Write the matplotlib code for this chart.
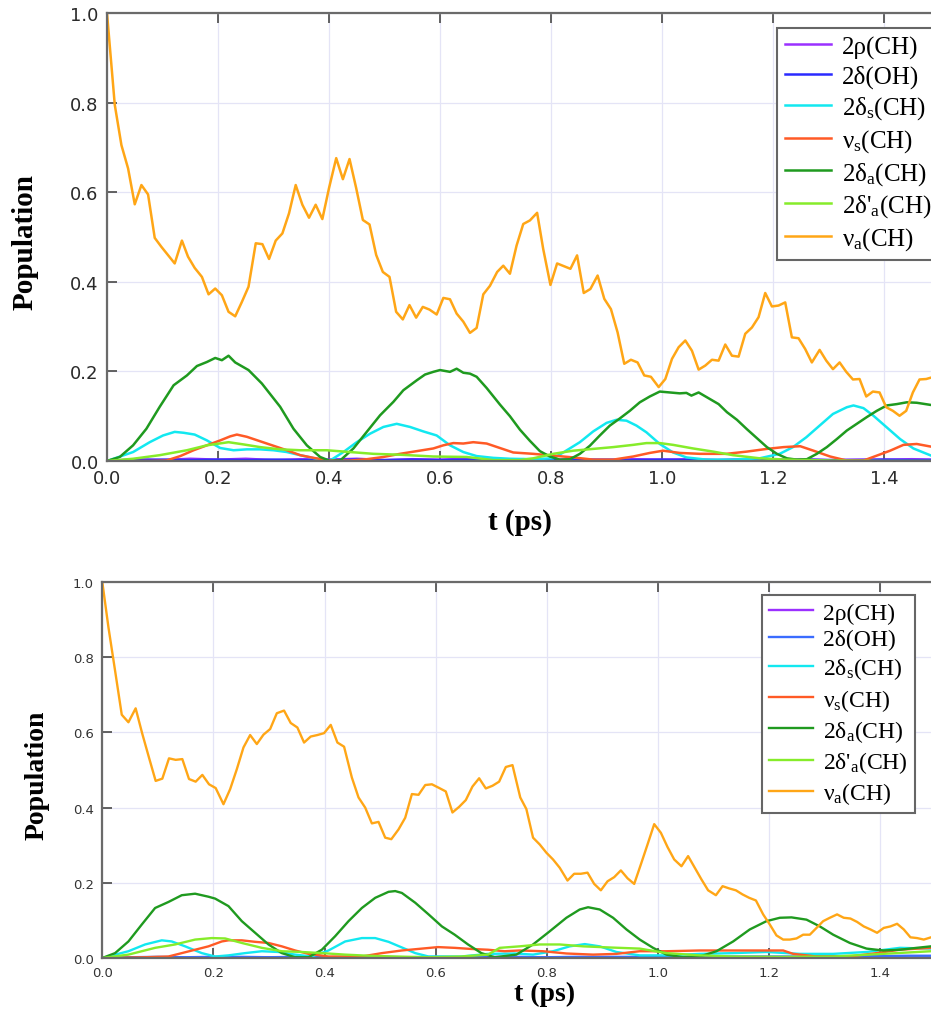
import matplotlib
matplotlib.use("Agg")
import matplotlib.pyplot as plt

plt.rcParams['mathtext.fontset'] = 'custom'
plt.rcParams['mathtext.rm'] = 'Liberation Serif'
plt.rcParams['mathtext.it'] = 'Liberation Serif:italic'

labels = ['2ρ(CH)', '2δ(OH)', r'2δ$_\mathrm{s}$(CH)', r'ν$_\mathrm{s}$(CH)',
          r'2δ$_\mathrm{a}$(CH)', r"2δ'$_\mathrm{a}$(CH)", r'ν$_\mathrm{a}$(CH)']
colors_top = ['#9b30ff', '#2a2aff', '#12e8f0', '#ff5a26', '#1f9a1f', '#86ec2a', '#ffa616']
colors_bot = ['#9b30ff', '#3a6cff', '#12e8f0', '#ff5a26', '#1f9a1f', '#86ec2a', '#ffa616']

x_ticks = [0.0, 0.2, 0.4, 0.6, 0.8, 1.0, 1.2, 1.4]
y_ticks = [0.0, 0.2, 0.4, 0.6, 0.8, 1.0]

# ---------------- top panel ----------------
top_t_low = [0.0, 0.05, 0.1, 0.15, 0.2, 0.25, 0.3, 0.35, 0.4, 0.45, 0.5, 0.55, 0.6, 0.65,
             0.7, 0.75, 0.8, 0.85, 0.9, 0.95, 1.0, 1.05, 1.1, 1.15, 1.2, 1.25, 1.3, 1.35,
             1.4, 1.45, 1.5]
top_rho = [0.0, 0.004, 0.002, 0.005, 0.003, 0.005, 0.002, 0.004, 0.003, 0.005, 0.002, 0.004,
           0.003, 0.005, 0.002, 0.004, 0.003, 0.004, 0.002, 0.004, 0.003, 0.004, 0.002, 0.003,
           0.003, 0.004, 0.002, 0.003, 0.003, 0.004, 0.003]
top_oh = [0.0, 0.002, 0.003, 0.002, 0.003, 0.002, 0.003, 0.002, 0.002, 0.003, 0.002, 0.003,
          0.002, 0.003, 0.002, 0.003, 0.002, 0.002, 0.003, 0.002, 0.003, 0.002, 0.002, 0.003,
          0.002, 0.003, 0.002, 0.002, 0.003, 0.002, 0.002]

top_t_ds = [0.0, 0.047, 0.077, 0.101, 0.122, 0.138, 0.158, 0.180, 0.204, 0.228, 0.252, 0.276,
            0.300, 0.324, 0.348, 0.378, 0.402, 0.426, 0.450, 0.474, 0.498, 0.522, 0.546, 0.570,
            0.594, 0.618, 0.642, 0.666, 0.696, 0.726, 0.768, 0.804, 0.822, 0.852, 0.876, 0.900,
            0.918, 0.936, 0.954, 0.972, 0.996, 1.020, 1.044, 1.080, 1.128, 1.176, 1.212, 1.236,
            1.260, 1.284, 1.308, 1.333, 1.345, 1.363, 1.381, 1.405, 1.429, 1.453, 1.485]
top_ds = [0.0, 0.020, 0.042, 0.057, 0.065, 0.063, 0.059, 0.046, 0.029, 0.024, 0.026, 0.026,
          0.024, 0.020, 0.013, 0.005, 0.001, 0.020, 0.042, 0.061, 0.076, 0.083, 0.076, 0.066,
          0.057, 0.035, 0.020, 0.011, 0.007, 0.005, 0.004, 0.006, 0.019, 0.042, 0.066, 0.085,
          0.092, 0.090, 0.079, 0.064, 0.038, 0.019, 0.008, 0.003, 0.003, 0.006, 0.016, 0.031,
          0.053, 0.079, 0.105, 0.120, 0.124, 0.118, 0.101, 0.075, 0.049, 0.028, 0.012]

top_t_vs = [0.0, 0.077, 0.107, 0.132, 0.156, 0.180, 0.204, 0.222, 0.234, 0.252, 0.276, 0.300,
            0.324, 0.348, 0.372, 0.402, 0.438, 0.468, 0.498, 0.528, 0.558, 0.588, 0.606, 0.624,
            0.642, 0.660, 0.684, 0.708, 0.732, 0.768, 0.804, 0.840, 0.876, 0.912, 0.948, 0.978,
            1.002, 1.032, 1.068, 1.116, 1.153, 1.189, 1.219, 1.249, 1.273, 1.303, 1.333, 1.363,
            1.387, 1.411, 1.435, 1.459, 1.485]
top_vs = [0.0, 0.0, 0.001, 0.011, 0.024, 0.035, 0.046, 0.055, 0.059, 0.054, 0.044, 0.034,
          0.024, 0.013, 0.007, 0.001, 0.001, 0.004, 0.009, 0.016, 0.022, 0.028, 0.035, 0.040,
          0.039, 0.042, 0.039, 0.029, 0.019, 0.016, 0.012, 0.008, 0.003, 0.003, 0.010, 0.018,
          0.023, 0.018, 0.016, 0.016, 0.021, 0.027, 0.031, 0.033, 0.023, 0.010, 0.001, 0.001,
          0.012, 0.023, 0.036, 0.038, 0.032]

top_t_da = [0.0, 0.023, 0.047, 0.071, 0.095, 0.120, 0.144, 0.162, 0.180, 0.195, 0.207, 0.219,
            0.231, 0.255, 0.279, 0.312, 0.336, 0.360, 0.384, 0.402, 0.420, 0.444, 0.468, 0.492,
            0.516, 0.534, 0.558, 0.573, 0.588, 0.600, 0.618, 0.630, 0.642, 0.654, 0.666, 0.684,
            0.708, 0.726, 0.744, 0.762, 0.780, 0.798, 0.816, 0.834, 0.852, 0.870, 0.888, 0.906,
            0.924, 0.942, 0.960, 0.978, 0.996, 1.014, 1.032, 1.044, 1.053, 1.066, 1.084, 1.102,
            1.117, 1.135, 1.153, 1.171, 1.189, 1.207, 1.225, 1.243, 1.261, 1.279, 1.297, 1.315,
            1.333, 1.351, 1.369, 1.387, 1.405, 1.423, 1.441, 1.459, 1.485]
top_da = [0.0, 0.009, 0.035, 0.072, 0.121, 0.169, 0.191, 0.212, 0.221, 0.230, 0.225, 0.235,
          0.220, 0.203, 0.173, 0.121, 0.072, 0.035, 0.009, 0.0, 0.001, 0.028, 0.065, 0.102,
          0.132, 0.158, 0.180, 0.193, 0.199, 0.203, 0.199, 0.206, 0.197, 0.195, 0.188, 0.163,
          0.126, 0.100, 0.070, 0.045, 0.022, 0.010, 0.003, 0.004, 0.016, 0.034, 0.057, 0.079,
          0.095, 0.112, 0.131, 0.144, 0.155, 0.153, 0.151, 0.152, 0.146, 0.153, 0.140, 0.127,
          0.109, 0.092, 0.071, 0.051, 0.031, 0.016, 0.006, 0.003, 0.004, 0.016, 0.031, 0.049,
          0.068, 0.083, 0.098, 0.112, 0.124, 0.127, 0.131, 0.130, 0.125]

top_t_dpa = [0.0, 0.047, 0.095, 0.144, 0.180, 0.219, 0.246, 0.276, 0.312, 0.348, 0.396, 0.438,
             0.480, 0.528, 0.588, 0.648, 0.696, 0.744, 0.768, 0.804, 0.840, 0.876, 0.912, 0.948,
             0.972, 0.996, 1.020, 1.056, 1.092, 1.128, 1.176, 1.225, 1.308, 1.400, 1.500]
top_dpa = [0.0, 0.005, 0.013, 0.024, 0.035, 0.042, 0.037, 0.031, 0.026, 0.024, 0.024, 0.020,
           0.016, 0.014, 0.010, 0.009, 0.002, 0.002, 0.006, 0.016, 0.023, 0.027, 0.031, 0.036,
           0.040, 0.040, 0.036, 0.028, 0.021, 0.013, 0.006, 0.003, 0.001, 0.0, 0.0]

top_t_va = [0.0, 0.014, 0.026, 0.038, 0.050, 0.062, 0.074, 0.086, 0.098, 0.122, 0.135, 0.146,
            0.158, 0.171, 0.183, 0.195, 0.207, 0.219, 0.231, 0.243, 0.255, 0.268, 0.280, 0.292,
            0.304, 0.316, 0.328, 0.340, 0.352, 0.364, 0.376, 0.388, 0.400, 0.413, 0.425, 0.437,
            0.449, 0.461, 0.473, 0.485, 0.497, 0.509, 0.521, 0.533, 0.545, 0.557, 0.569, 0.581,
            0.594, 0.606, 0.618, 0.630, 0.642, 0.654, 0.666, 0.678, 0.690, 0.703, 0.714, 0.726,
            0.738, 0.750, 0.762, 0.775, 0.786, 0.799, 0.811, 0.823, 0.835, 0.847, 0.859, 0.871,
            0.884, 0.896, 0.908, 0.920, 0.932, 0.944, 0.956, 0.968, 0.980, 0.994, 1.006, 1.018,
            1.030, 1.042, 1.054, 1.066, 1.078, 1.090, 1.102, 1.114, 1.126, 1.138, 1.150, 1.162,
            1.174, 1.186, 1.198, 1.210, 1.222, 1.234, 1.246, 1.258, 1.270, 1.284, 1.296, 1.308,
            1.320, 1.332, 1.344, 1.356, 1.368, 1.380, 1.392, 1.404, 1.416, 1.428, 1.440, 1.452,
            1.464, 1.476, 1.490]
top_va = [1.0, 0.795, 0.705, 0.653, 0.573, 0.616, 0.595, 0.498, 0.478, 0.441, 0.492, 0.456,
          0.431, 0.411, 0.372, 0.385, 0.370, 0.333, 0.323, 0.355, 0.389, 0.486, 0.484, 0.451,
          0.492, 0.508, 0.553, 0.616, 0.572, 0.543, 0.572, 0.540, 0.609, 0.676, 0.629, 0.674,
          0.609, 0.538, 0.528, 0.460, 0.422, 0.411, 0.333, 0.316, 0.348, 0.320, 0.344, 0.338,
          0.327, 0.364, 0.361, 0.329, 0.311, 0.286, 0.297, 0.372, 0.391, 0.422, 0.436, 0.418,
          0.481, 0.529, 0.537, 0.554, 0.473, 0.393, 0.441, 0.435, 0.429, 0.459, 0.375, 0.384,
          0.414, 0.362, 0.339, 0.287, 0.217, 0.226, 0.220, 0.191, 0.188, 0.165, 0.183, 0.228,
          0.254, 0.269, 0.246, 0.204, 0.213, 0.226, 0.224, 0.260, 0.235, 0.233, 0.284, 0.298,
          0.321, 0.375, 0.345, 0.347, 0.354, 0.276, 0.274, 0.250, 0.220, 0.248, 0.224, 0.205,
          0.220, 0.199, 0.182, 0.183, 0.144, 0.155, 0.153, 0.120, 0.112, 0.101, 0.112, 0.153,
          0.182, 0.183, 0.188]

# ---------------- bottom panel ----------------
bot_t_low = top_t_low
bot_rho = [0.0, 0.001, 0.002, 0.001, 0.002, 0.001, 0.002, 0.001, 0.001, 0.002, 0.001, 0.002,
           0.001, 0.002, 0.001, 0.002, 0.001, 0.001, 0.002, 0.001, 0.002, 0.001, 0.001, 0.002,
           0.001, 0.002, 0.001, 0.001, 0.002, 0.001, 0.001]
bot_oh = [0.0, 0.002, 0.003, 0.002, 0.003, 0.003, 0.002, 0.003, 0.002, 0.003, 0.003, 0.002,
          0.003, 0.002, 0.003, 0.003, 0.002, 0.003, 0.003, 0.003, 0.003, 0.003, 0.004, 0.004,
          0.004, 0.004, 0.005, 0.005, 0.005, 0.006, 0.006]

bot_t_ds = [0.0, 0.047, 0.077, 0.107, 0.125, 0.149, 0.179, 0.203, 0.227, 0.257, 0.287, 0.317,
            0.347, 0.377, 0.407, 0.437, 0.467, 0.491, 0.515, 0.539, 0.563, 0.587, 0.646, 0.694,
            0.742, 0.775, 0.811, 0.841, 0.868, 0.895, 0.925, 0.967, 1.015, 1.075, 1.135, 1.195,
            1.255, 1.315, 1.375, 1.435, 1.491]
bot_ds = [0.0, 0.018, 0.036, 0.047, 0.044, 0.031, 0.013, 0.004, 0.007, 0.013, 0.018, 0.016,
          0.009, 0.004, 0.020, 0.044, 0.053, 0.053, 0.043, 0.028, 0.013, 0.004, 0.004, 0.011,
          0.012, 0.009, 0.018, 0.031, 0.037, 0.031, 0.016, 0.007, 0.007, 0.011, 0.013, 0.016,
          0.011, 0.011, 0.016, 0.027, 0.025]

bot_t_vs = [0.0, 0.077, 0.119, 0.143, 0.167, 0.191, 0.215, 0.227, 0.251, 0.275, 0.299, 0.323,
            0.347, 0.371, 0.407, 0.467, 0.503, 0.539, 0.575, 0.604, 0.634, 0.664, 0.694, 0.724,
            0.751, 0.793, 0.835, 0.883, 0.925, 0.967, 1.015, 1.075, 1.135, 1.195, 1.225, 1.243,
            1.285, 1.345, 1.393, 1.435, 1.491]
bot_vs = [0.0, 0.002, 0.004, 0.013, 0.022, 0.031, 0.044, 0.047, 0.047, 0.043, 0.040, 0.031,
          0.020, 0.011, 0.004, 0.004, 0.013, 0.020, 0.025, 0.029, 0.027, 0.024, 0.022, 0.018,
          0.020, 0.018, 0.012, 0.009, 0.011, 0.018, 0.018, 0.020, 0.020, 0.020, 0.020, 0.011,
          0.004, 0.004, 0.013, 0.022, 0.027]

bot_t_da = [0.0, 0.023, 0.047, 0.071, 0.095, 0.119, 0.143, 0.167, 0.191, 0.203, 0.227, 0.251,
            0.275, 0.299, 0.323, 0.347, 0.371, 0.395, 0.419, 0.443, 0.467, 0.491, 0.515, 0.527,
            0.539, 0.563, 0.587, 0.611, 0.634, 0.658, 0.682, 0.706, 0.745, 0.775, 0.805, 0.835,
            0.859, 0.874, 0.895, 0.919, 0.943, 0.967, 0.991, 1.015, 1.045, 1.075, 1.105, 1.135,
            1.165, 1.195, 1.219, 1.240, 1.267, 1.291, 1.315, 1.345, 1.375, 1.405, 1.435, 1.465,
            1.491]
bot_da = [0.0, 0.013, 0.044, 0.089, 0.133, 0.149, 0.167, 0.171, 0.163, 0.158, 0.138, 0.098,
          0.067, 0.036, 0.013, 0.002, 0.002, 0.022, 0.058, 0.098, 0.133, 0.160, 0.176, 0.178,
          0.173, 0.147, 0.116, 0.084, 0.062, 0.036, 0.013, 0.002, 0.009, 0.036, 0.071, 0.107,
          0.129, 0.135, 0.129, 0.107, 0.076, 0.049, 0.027, 0.009, 0.002, 0.004, 0.018, 0.044,
          0.076, 0.098, 0.107, 0.108, 0.102, 0.084, 0.062, 0.040, 0.025, 0.020, 0.022, 0.027,
          0.031]

bot_t_dpa = [0.0, 0.047, 0.095, 0.131, 0.167, 0.197, 0.221, 0.251, 0.287, 0.323, 0.359, 0.395,
             0.437, 0.479, 0.527, 0.587, 0.646, 0.694, 0.715, 0.751, 0.787, 0.823, 0.865, 0.913,
             0.967, 1.015, 1.075, 1.135, 1.225, 1.315, 1.405, 1.491]
bot_dpa = [0.0, 0.009, 0.027, 0.036, 0.049, 0.053, 0.052, 0.040, 0.027, 0.018, 0.016, 0.013,
           0.009, 0.006, 0.004, 0.002, 0.004, 0.009, 0.027, 0.031, 0.036, 0.036, 0.031, 0.028,
           0.025, 0.013, 0.007, 0.004, 0.003, 0.004, 0.011, 0.018]

bot_t_va = [0.0, 0.011, 0.023, 0.035, 0.047, 0.060, 0.072, 0.084, 0.096, 0.108, 0.120, 0.132,
            0.144, 0.156, 0.168, 0.180, 0.192, 0.204, 0.218, 0.230, 0.242, 0.254, 0.266, 0.278,
            0.290, 0.302, 0.314, 0.327, 0.339, 0.351, 0.363, 0.375, 0.387, 0.399, 0.411, 0.423,
            0.435, 0.449, 0.461, 0.473, 0.485, 0.497, 0.509, 0.520, 0.533, 0.545, 0.557, 0.569,
            0.581, 0.593, 0.605, 0.618, 0.630, 0.642, 0.654, 0.666, 0.678, 0.690, 0.702, 0.714,
            0.726, 0.738, 0.752, 0.763, 0.775, 0.787, 0.799, 0.811, 0.823, 0.837, 0.849, 0.861,
            0.873, 0.885, 0.897, 0.909, 0.921, 0.933, 0.945, 0.957, 0.969, 0.981, 0.993, 1.005,
            1.017, 1.029, 1.042, 1.054, 1.066, 1.078, 1.090, 1.104, 1.116, 1.128, 1.140, 1.152,
            1.164, 1.176, 1.189, 1.201, 1.213, 1.225, 1.237, 1.249, 1.261, 1.273, 1.285, 1.297,
            1.309, 1.322, 1.334, 1.346, 1.358, 1.370, 1.382, 1.394, 1.406, 1.418, 1.430, 1.442,
            1.454, 1.466, 1.478, 1.491]
bot_va = [1.0, 0.880, 0.764, 0.647, 0.627, 0.664, 0.596, 0.533, 0.471, 0.477, 0.531, 0.527,
          0.529, 0.476, 0.469, 0.487, 0.462, 0.452, 0.409, 0.449, 0.502, 0.560, 0.593, 0.569,
          0.594, 0.609, 0.651, 0.658, 0.625, 0.613, 0.573, 0.589, 0.593, 0.598, 0.620, 0.573,
          0.562, 0.480, 0.427, 0.400, 0.358, 0.362, 0.320, 0.316, 0.342, 0.373, 0.436, 0.434,
          0.460, 0.462, 0.453, 0.443, 0.387, 0.402, 0.420, 0.456, 0.478, 0.451, 0.458, 0.469,
          0.508, 0.513, 0.427, 0.396, 0.320, 0.302, 0.280, 0.262, 0.240, 0.206, 0.224, 0.224,
          0.227, 0.197, 0.180, 0.204, 0.215, 0.233, 0.212, 0.197, 0.249, 0.302, 0.356, 0.333,
          0.295, 0.262, 0.244, 0.271, 0.240, 0.209, 0.180, 0.167, 0.191, 0.185, 0.180, 0.169,
          0.160, 0.153, 0.116, 0.089, 0.060, 0.049, 0.049, 0.052, 0.062, 0.062, 0.080, 0.098,
          0.107, 0.116, 0.107, 0.105, 0.096, 0.084, 0.076, 0.067, 0.080, 0.084, 0.091, 0.076,
          0.055, 0.053, 0.049, 0.055]

W, H = 931, 1012
fig = plt.figure(figsize=(W / 100, H / 100), dpi=100)


def frac(px_left, py_top, px_right, py_bottom):
    return [px_left / W, 1 - py_bottom / H, (px_right - px_left) / W, (py_bottom - py_top) / H]


def style_axes(ax, tick_fs, tick_color):
    ax.set_xlim(0, 1.5)
    ax.set_ylim(0, 1.0)
    ax.set_xticks(x_ticks)
    ax.set_yticks(y_ticks)
    ax.set_xticklabels([f'{v:.1f}' for v in x_ticks])
    ax.set_yticklabels([f'{v:.1f}' for v in y_ticks])
    ax.grid(True, color='#e4e4f6', linewidth=0.9)
    ax.set_axisbelow(True)
    for s in ax.spines.values():
        s.set_color('#6a6a6a')
        s.set_linewidth(1.6)
    ax.tick_params(direction='in', top=True, right=False, length=7, width=1.3,
                   color='#555555', labelsize=tick_fs, labelcolor=tick_color, pad=6)


# top axes
ax1 = fig.add_axes(frac(107, 14, 939.5, 462))
series_top = [(top_t_low, top_rho), (top_t_low, top_oh), (top_t_ds, top_ds), (top_t_vs, top_vs),
              (top_t_da, top_da), (top_t_dpa, top_dpa), (top_t_va, top_va)]
for (tt, yy), lab, c in zip(series_top, labels, colors_top):
    ax1.plot(tt, yy, color=c, lw=1.8, label=lab, clip_on=True)
style_axes(ax1, 13, '#2a2a2a')
leg1 = ax1.legend(loc='upper left', bbox_to_anchor=(777 / W, 1 - 29 / H),
                  bbox_transform=fig.transFigure, borderaxespad=0,
                  prop={'family': 'Liberation Serif', 'size': 18},
                  handlelength=1.85, handletextpad=0.45, labelspacing=0.24,
                  borderpad=0.3, fancybox=False, framealpha=1, edgecolor='#666666')
leg1.get_frame().set_linewidth(1.5)

# bottom axes
ax2 = fig.add_axes(frac(102.3, 583, 936, 959))
series_bot = [(bot_t_low, bot_rho), (bot_t_low, bot_oh), (bot_t_ds, bot_ds), (bot_t_vs, bot_vs),
              (bot_t_da, bot_da), (bot_t_dpa, bot_dpa), (bot_t_va, bot_va)]
for (tt, yy), lab, c in zip(series_bot, labels, colors_bot):
    ax2.plot(tt, yy, color=c, lw=1.7, label=lab)
style_axes(ax2, 9.5, '#333333')
leg2 = ax2.legend(loc='upper left', bbox_to_anchor=(762 / W, 1 - 596 / H),
                  bbox_transform=fig.transFigure, borderaxespad=0,
                  prop={'family': 'Liberation Serif', 'size': 17},
                  handlelength=1.85, handletextpad=0.45, labelspacing=0.22,
                  borderpad=0.3, fancybox=False, framealpha=1, edgecolor='#666666')
leg2.get_frame().set_linewidth(1.5)

lab_font = dict(family='Liberation Serif', weight='bold', color='black')
fig.text(25 / W, 1 - 242 / H, 'Population', rotation=90, ha='center', va='center',
         fontsize=21, **lab_font)
fig.text(520 / W, 1 - 523 / H, 't (ps)', ha='center', va='center', fontsize=21, **lab_font)
fig.text(37 / W, 1 - 775 / H, 'Population', rotation=90, ha='center', va='center',
         fontsize=20, **lab_font)
fig.text(545 / W, 1 - 994 / H, 't (ps)', ha='center', va='center', fontsize=20, **lab_font)

fig.savefig('out.png', dpi=100)
